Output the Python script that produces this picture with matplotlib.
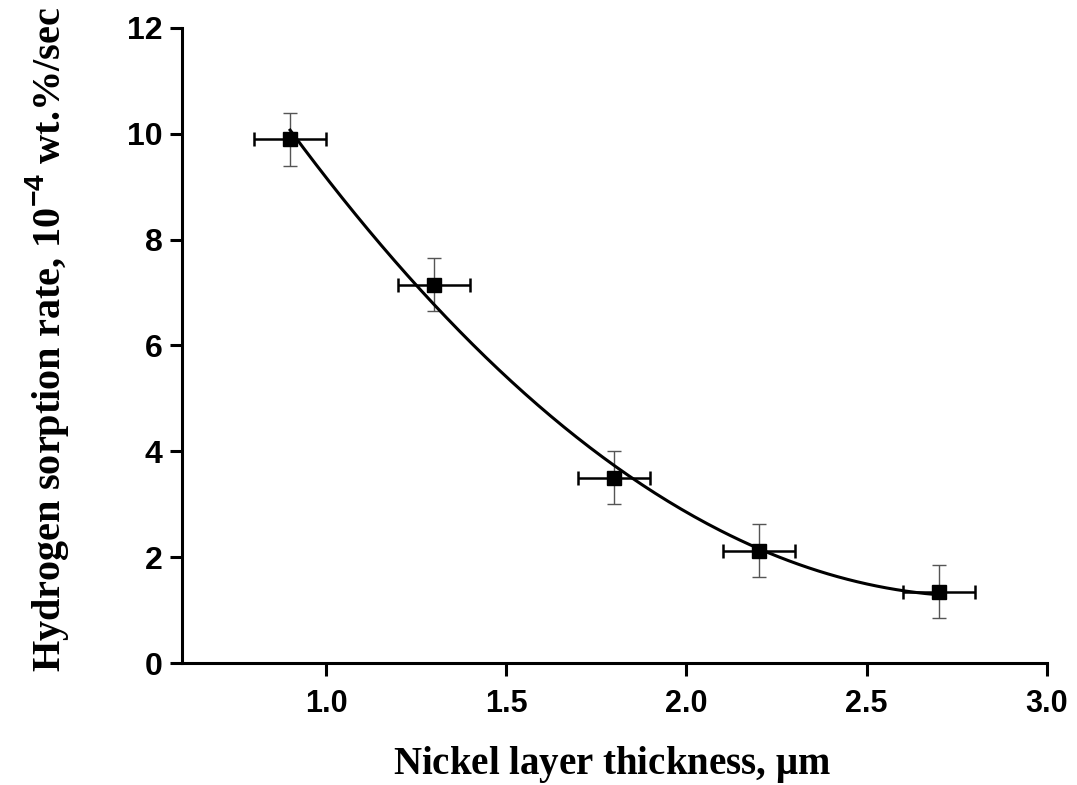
import matplotlib.pyplot as plt
import numpy as np

# Dados medidos: espessura da camada de níquel e taxa de sorção
espessura = [0.9, 1.3, 1.8, 2.2, 2.7]
taxa = [9.9, 7.15, 3.5, 2.12, 1.35]
erro_x = [0.1, 0.1, 0.1, 0.1, 0.1]
erro_y = [0.5, 0.5, 0.5, 0.5, 0.5]

x_ticks = [1.0, 1.5, 2.0, 2.5, 3.0]
y_ticks = [0, 2, 4, 6, 8, 10, 12]

plt.rcParams['mathtext.fontset'] = 'custom'
plt.rcParams['mathtext.bf'] = 'Liberation Serif:bold'
plt.rcParams['mathtext.rm'] = 'Liberation Serif:bold'
plt.rcParams['mathtext.sf'] = 'Liberation Sans:bold'

fig = plt.figure(figsize=(10.77, 7.85), dpi=100)
ax = fig.add_axes([0.169, 0.1554, 0.803, 0.809])

# Ajuste polinomial de segundo grau
coef = np.polyfit(espessura, taxa, 2)
xs = np.linspace(min(espessura), max(espessura), 200)
ax.plot(xs, np.polyval(coef, xs), color='black', lw=2.2, zorder=3)

# Barras de erro: vertical cinza fina, horizontal preta
ax.errorbar(espessura, taxa, yerr=erro_y, fmt='none', ecolor='#555555',
            elinewidth=1.0, capsize=5, capthick=1.0, zorder=2)
ax.errorbar(espessura, taxa, xerr=erro_x, fmt='none', ecolor='black',
            elinewidth=1.8, capsize=5, capthick=1.8, zorder=2)
ax.plot(espessura, taxa, 's', color='black', markersize=10, zorder=4)

ax.set_xlim(0.6, 3.0)
ax.set_ylim(0, 12)
ax.set_xticks(x_ticks)
ax.set_yticks(y_ticks)
ax.set_xticklabels([f"{v:.1f}" for v in x_ticks])

for lado in ['top', 'right']:
    ax.spines[lado].set_visible(False)
for lado in ['left', 'bottom']:
    ax.spines[lado].set_linewidth(2.2)

ax.tick_params(direction='out', length=9, width=2.2)
ax.tick_params(axis='x', pad=10)
ax.tick_params(axis='y', pad=5)
for lbl in ax.get_xticklabels():
    lbl.set_fontfamily('Liberation Sans')
    lbl.set_fontweight('bold')
    lbl.set_fontsize(22)
for lbl in ax.get_yticklabels():
    lbl.set_fontfamily('Liberation Sans')
    lbl.set_fontweight('bold')
    lbl.set_fontsize(23)

ax.set_xlabel(r"Nickel layer thickness, $\mathbf{\mu}$m", fontfamily='Liberation Serif',
              fontweight='bold', fontsize=28)
ax.set_ylabel(r"Hydrogen sorption rate, 10$^{\mathsf{-4}}$ wt.%/sec", fontfamily='Liberation Serif',
              fontweight='bold', fontsize=29)
ax.xaxis.set_label_coords(0.497, -0.127)
ax.yaxis.set_label_coords(-0.128, 0.51)

plt.savefig('out.png', dpi=100)
plt.close()
